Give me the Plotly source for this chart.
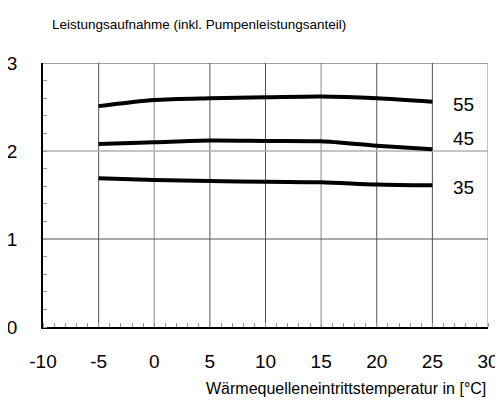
import plotly.graph_objects as go

x = [-5, 0, 5, 10, 15, 20, 25]
y55 = [2.51, 2.58, 2.60, 2.61, 2.62, 2.60, 2.56]
y45 = [2.08, 2.10, 2.12, 2.115, 2.11, 2.06, 2.02]
y35 = [1.69, 1.67, 1.66, 1.65, 1.645, 1.62, 1.61]
series = [("55", y55, 2.523), ("45", y45, 2.137), ("35", y35, 1.589)]
x_ticks = [-10, -5, 0, 5, 10, 15, 20, 25, 30]
x_tick_labels = ["-10", "-5", "0", "5", "10", "15", "20", "25", "30"]
y_ticks = [0, 1, 2, 3]
dark_x = [-5, 5, 10, 20, 25]
light_x = [0, 15, 30]

fig = go.Figure()
shapes = []
for v in dark_x:
    shapes.append(dict(type="line", xref="x", yref="y", x0=v, x1=v, y0=0, y1=3,
                       line=dict(color="#555555", width=1), layer="below"))
for v in light_x:
    shapes.append(dict(type="line", xref="x", yref="y", x0=v, x1=v, y0=0, y1=3,
                       line=dict(color="#b0b0b0", width=1.5), layer="below"))
shapes.append(dict(type="line", xref="x", yref="y", x0=-10, x1=30, y0=1, y1=1,
                   line=dict(color="#555555", width=1), layer="below"))
shapes.append(dict(type="line", xref="x", yref="y", x0=-10, x1=30, y0=2, y1=2,
                   line=dict(color="#b0b0b0", width=1.5), layer="below"))
shapes.append(dict(type="line", xref="x", yref="y", x0=-10, x1=30, y0=3, y1=3,
                   line=dict(color="#444444", width=1), layer="below"))

for name, ys, ly in series:
    fig.add_trace(go.Scatter(x=x, y=ys, mode="lines", line=dict(color="black", width=4, shape="spline", smoothing=0.8),
                             showlegend=False, hoverinfo="skip"))
    fig.add_annotation(x=27.8, y=ly, text=name, showarrow=False, xref="x", yref="y",
                       font=dict(size=19, color="black"))

fig.add_annotation(x=7/445, y=303/264, xref="paper", yref="paper", text="Leistungsaufnahme (inkl. Pumpenleistungsanteil)",
                   showarrow=False, xanchor="left", yanchor="middle", font=dict(size=13.5, color="black"))
fig.add_annotation(x=1, y=-61/264, xref="paper", yref="paper", text="Wärmequelleneintrittstemperatur in [°C]",
                   showarrow=False, xanchor="right", yanchor="middle", font=dict(size=16, color="black"))

fig.update_layout(
    width=495, height=392,
    margin=dict(l=35, r=15, t=55, b=73, autoexpand=False),
    paper_bgcolor="white", plot_bgcolor="white",
    font=dict(family="Liberation Sans, Arial", size=19, color="black"),
    shapes=shapes,
    xaxis=dict(range=[-10, 30], tickvals=x_ticks, ticktext=x_tick_labels, showgrid=False, zeroline=False,
               showline=True, linecolor="black", linewidth=1.5, ticks="", automargin=False,
               ticklabelstandoff=16,
               minor=dict(dtick=1, tick0=-10, ticks="inside", ticklen=4, tickcolor="#999999", showgrid=False)),
    yaxis=dict(range=[0, 3], tickvals=y_ticks, showgrid=False, zeroline=False,
               showline=True, linecolor="black", linewidth=1.5, ticks="", automargin=False,
               ticklabelstandoff=20,
               minor=dict(dtick=0.2, tick0=0, ticks="inside", ticklen=4, tickcolor="#999999", showgrid=False)),
)
fig.write_html("out.html")
